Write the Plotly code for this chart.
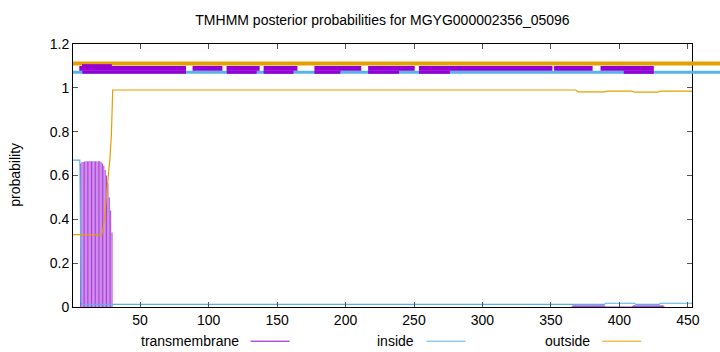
import plotly.graph_objects as go

# ---------------- data ----------------
title_text = "TMHMM posterior probabilities for MGYG000002356_05096"
x_ticks = [50, 100, 150, 200, 250, 300, 350, 400, 450]
y_ticks = [0, 0.2, 0.4, 0.6, 0.8, 1.0, 1.2]
x_min, x_max = 1, 453

# transmembrane posterior (per residue)
tm_pos = [6, 7, 8, 9, 10, 11, 12, 13, 14, 15, 16, 17, 18, 19, 20, 21, 22, 23, 24, 25, 26, 27, 28, 29]
tm_val = [0.655, 0.66, 0.662, 0.664, 0.665, 0.665, 0.665, 0.665, 0.665, 0.665, 0.665, 0.665,
          0.665, 0.665, 0.665, 0.663, 0.655, 0.645, 0.625, 0.60, 0.565, 0.50, 0.44, 0.34]
# faint transmembrane bumps near the C-terminus
tm_low_x = [365, 366, 389, 390, 409, 410, 432, 433]
tm_low_y = [0.0, 0.005, 0.005, 0.0, 0.0, 0.005, 0.005, 0.0]

# inside posterior
inside_x = [1, 6, 7, 8, 389, 390, 411, 412, 429, 430, 453]
inside_y = [0.67, 0.67, 0.02, 0.012, 0.012, 0.017, 0.017, 0.012, 0.012, 0.017, 0.017]

# outside posterior
outside_x = [1, 21, 22, 23, 24, 25, 26, 27, 28, 29, 30, 368, 370, 389, 391, 409, 411, 428, 430, 453]
outside_y = [0.33, 0.33, 0.33, 0.36, 0.40, 0.48, 0.55, 0.60, 0.68, 0.78, 0.99, 0.99, 0.982,
             0.982, 0.985, 0.985, 0.980, 0.980, 0.985, 0.985]

# predicted topology strip at the top
topo_outside_level = 1.111
topo_inside_level = 1.0715
topo_tm_start = [5.6, 88.3, 113.1, 140.2, 177.3, 216.5, 253.6, 352.3, 386.2]
topo_tm_end = [83.5, 110.1, 137.3, 164.9, 211.5, 250.5, 351.1, 380.4, 425.1]
topo_cover_start = [7.8, 113.3, 140.2, 177.3, 216.5, 253.6, 403.2]
topo_cover_end = [83.5, 135.1, 162.0, 196.2, 239.1, 276.2, 425.1]
topo_tall_start, topo_tall_end = 7.6, 29.4

legend_labels = ["transmembrane", "inside", "outside"]

# ---------------- style ----------------
C_TM = "#9400D3"
C_IN = "#56B4E9"
C_OUT = "#E69F00"
FONT = "Liberation Sans, Arial, sans-serif"

fig = go.Figure()

fig.add_trace(go.Bar(x=tm_pos, y=tm_val, width=0.75, offset=0.12,
                     marker=dict(color="rgba(160,30,215,0.85)", line=dict(width=0)),
                     showlegend=False, hoverinfo="skip"))
fig.add_trace(go.Scatter(x=tm_low_x, y=tm_low_y, mode="lines", fill="tozeroy",
                         line=dict(color=C_TM, width=0.8), fillcolor="rgba(148,0,211,0.6)",
                         showlegend=False, hoverinfo="skip"))
fig.add_trace(go.Scatter(x=inside_x, y=inside_y, mode="lines",
                         line=dict(color=C_IN, width=1.2), showlegend=False))
fig.add_trace(go.Scatter(x=outside_x, y=outside_y, mode="lines",
                         line=dict(color=C_OUT, width=1.2), showlegend=False))

shapes = []
# top strip lines (extend past the right border like the original)
shapes.append(dict(type="line", xref="paper", yref="y", x0=0, x1=1.05,
                   y0=topo_outside_level, y1=topo_outside_level,
                   line=dict(color=C_OUT, width=4)))
shapes.append(dict(type="line", xref="paper", yref="y", x0=0, x1=1.05,
                   y0=topo_inside_level, y1=topo_inside_level,
                   line=dict(color=C_IN, width=3)))
for s, e in zip(topo_tm_start, topo_tm_end):
    shapes.append(dict(type="rect", xref="x", yref="y", x0=s, x1=e, y0=1.078, y1=1.100,
                       fillcolor=C_TM, line=dict(width=0)))
for s, e in zip(topo_cover_start, topo_cover_end):
    shapes.append(dict(type="rect", xref="x", yref="y", x0=s, x1=e, y0=1.064, y1=1.079,
                       fillcolor=C_TM, line=dict(width=0)))
shapes.append(dict(type="rect", xref="x", yref="y", x0=topo_tall_start, x1=topo_tall_end,
                   y0=1.09, y1=1.108, fillcolor=C_TM, line=dict(width=0)))

# legend samples
leg_text_right = [0.271, 0.554, 0.838]
leg_line = [(0.287, 0.350), (0.571, 0.634), (0.855, 0.918)]
leg_colors = [C_TM, C_IN, C_OUT]
leg_y = -0.13
annotations = []
for lab, xr, (l0, l1), col in zip(legend_labels, leg_text_right, leg_line, leg_colors):
    annotations.append(dict(text=lab, xref="paper", yref="paper", x=xr, y=leg_y,
                            xanchor="right", yanchor="middle", showarrow=False,
                            font=dict(family=FONT, size=14, color="black")))
    shapes.append(dict(type="line", xref="paper", yref="paper", x0=l0, x1=l1,
                       y0=leg_y, y1=leg_y, line=dict(color=col, width=1)))

annotations.append(dict(text="probability", xref="paper", yref="paper", x=-0.094, y=0.502,
                        textangle=-90, xanchor="center", yanchor="middle", showarrow=False,
                        font=dict(family=FONT, size=14, color="black")))

fig.update_layout(
    width=720, height=352,
    margin=dict(l=73, r=28, t=44, b=45),
    paper_bgcolor="white", plot_bgcolor="white",
    font=dict(family=FONT, size=14, color="black"),
    title=dict(text=title_text, x=0.5312, xanchor="center", y=0.943, yanchor="middle",
               font=dict(family=FONT, size=14, color="black")),
    shapes=shapes, annotations=annotations,
    showlegend=False, barmode="overlay",
)
fig.update_xaxes(range=[x_min, x_max], tickvals=x_ticks, ticktext=[str(v) for v in x_ticks],
                 showgrid=False, zeroline=False, showline=True, linecolor="black", linewidth=1,
                 mirror="ticks", ticks="inside", ticklen=5, tickcolor="#555",
                 tickfont=dict(family=FONT, size=14, color="black"))
fig.update_yaxes(range=[0, 1.2], tickvals=y_ticks,
                 ticktext=["0", "0.2", "0.4", "0.6", "0.8", "1", "1.2"],
                 showgrid=False, zeroline=False, showline=True, linecolor="black", linewidth=1,
                 mirror="ticks", ticks="inside", ticklen=5, tickcolor="#555",
                 tickfont=dict(family=FONT, size=14, color="black"))

fig.write_html("out.html")
